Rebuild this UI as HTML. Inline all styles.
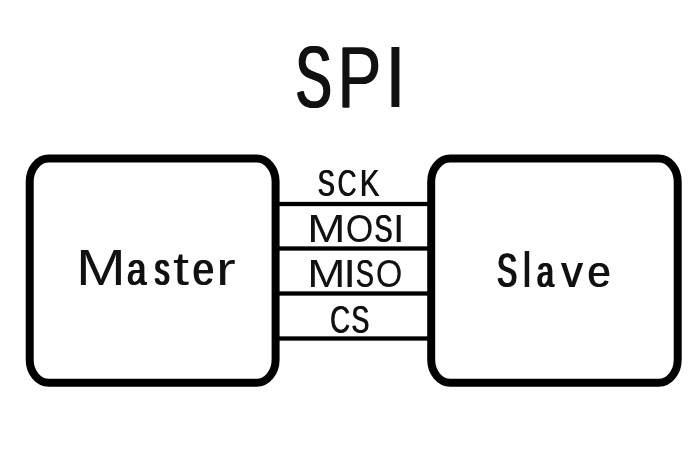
<!DOCTYPE html>
<html><head><meta charset="utf-8">
<style>
html,body{margin:0;padding:0;background:#fff;width:700px;height:468px;overflow:hidden}
svg{display:block;filter:blur(0.6px)}
text{font-family:"Liberation Sans",sans-serif;font-size:100px}
</style></head><body>
<svg width="700" height="468" viewBox="0 0 700 468">
<rect x="0" y="0" width="700" height="468" fill="#fff"/>
<g fill="none" stroke="#000" stroke-width="8">
<rect x="29.7" y="158.6" width="245.9" height="224.1" rx="19" ry="23"/>
<rect x="431.2" y="158.6" width="246.5" height="224.1" rx="19" ry="23"/>
</g>
<g fill="#000">
<rect x="276" y="201.85" width="155" height="4.3"/>
<rect x="276" y="246.35" width="155" height="4.3"/>
<rect x="276" y="291.35" width="155" height="4.3"/>
<rect x="276" y="336.35" width="155" height="4.3"/>
</g>
<g fill="#111" style="opacity:0.999">
<text transform="matrix(0.54394 0 0 0.86920 294.53 107.00)">S</text><text transform="matrix(0.54394 0 0 0.86920 295.57 107.00)">S</text><text transform="matrix(0.54394 0 0 0.86920 296.62 107.00)">S</text>
<text transform="matrix(0.65627 0 0 0.86920 337.02 107.00)">P</text><text transform="matrix(0.65627 0 0 0.86920 338.09 107.00)">P</text>
<text transform="matrix(0.85780 0 0 0.86920 383.38 107.00)">I</text>
<text transform="matrix(0.59796 0 0 0.49129 76.09 284.60)">M</text>
<text transform="matrix(0.34251 0 0 0.45616 126.24 284.60)">a</text><text transform="matrix(0.34251 0 0 0.45616 127.10 284.60)">a</text><text transform="matrix(0.34251 0 0 0.45616 127.95 284.60)">a</text>
<text transform="matrix(0.28927 0 0 0.45616 153.69 284.60)">s</text><text transform="matrix(0.28927 0 0 0.45616 154.79 284.60)">s</text><text transform="matrix(0.28927 0 0 0.45616 155.88 284.60)">s</text>
<text transform="matrix(0.57955 0 0 0.46405 172.92 284.60)">t</text>
<text transform="matrix(0.38268 0 0 0.45616 192.07 284.60)">e</text><text transform="matrix(0.38268 0 0 0.45616 193.42 284.60)">e</text>
<text transform="matrix(0.59200 0 0 0.45616 216.07 284.60)">r</text>
<text transform="matrix(0.29463 0 0 0.47385 496.16 286.60)">S</text><text transform="matrix(0.29463 0 0 0.47385 497.23 286.60)">S</text><text transform="matrix(0.29463 0 0 0.47385 498.30 286.60)">S</text>
<text transform="matrix(0.51200 0 0 0.49130 521.25 286.60)">l</text>
<text transform="matrix(0.30000 0 0 0.45048 535.93 286.60)">a</text><text transform="matrix(0.30000 0 0 0.45048 536.97 286.60)">a</text><text transform="matrix(0.30000 0 0 0.45048 538.02 286.60)">a</text>
<text transform="matrix(0.43194 0 0 0.45048 560.85 286.60)">v</text><text transform="matrix(0.43194 0 0 0.45048 561.75 286.60)">v</text>
<text transform="matrix(0.41699 0 0 0.45048 586.93 286.60)">e</text><text transform="matrix(0.41699 0 0 0.45048 587.96 286.60)">e</text>
<text transform="matrix(0.25136 0 0 0.36338 317.36 195.50)">S</text><text transform="matrix(0.25136 0 0 0.36338 318.39 195.50)">S</text>
<text transform="matrix(0.26153 0 0 0.36338 337.17 195.50)">C</text><text transform="matrix(0.26153 0 0 0.36338 338.11 195.50)">C</text>
<text transform="matrix(0.29375 0 0 0.36338 359.59 195.50)">K</text><text transform="matrix(0.29375 0 0 0.36338 360.24 195.50)">K</text>
<text transform="matrix(0.45893 0 0 0.38373 307.24 241.60)">M</text>
<text transform="matrix(0.35456 0 0 0.38373 345.72 241.60)">O</text>
<text transform="matrix(0.26991 0 0 0.38373 374.07 241.60)">S</text><text transform="matrix(0.26991 0 0 0.38373 374.94 241.60)">S</text>
<text transform="matrix(0.42890 0 0 0.38373 392.64 241.60)">I</text>
<text transform="matrix(0.45893 0 0 0.38518 307.24 286.60)">M</text>
<text transform="matrix(0.46107 0 0 0.38518 343.15 286.60)">I</text>
<text transform="matrix(0.26991 0 0 0.38518 355.47 286.60)">S</text><text transform="matrix(0.26991 0 0 0.38518 356.34 286.60)">S</text>
<text transform="matrix(0.34274 0 0 0.38518 375.78 286.60)">O</text>
<text transform="matrix(0.27626 0 0 0.38227 329.70 332.60)">C</text><text transform="matrix(0.27626 0 0 0.38227 330.50 332.60)">C</text>
<text transform="matrix(0.26579 0 0 0.38227 350.99 332.60)">S</text><text transform="matrix(0.26579 0 0 0.38227 351.89 332.60)">S</text>
</g>
</svg>
</body></html>
